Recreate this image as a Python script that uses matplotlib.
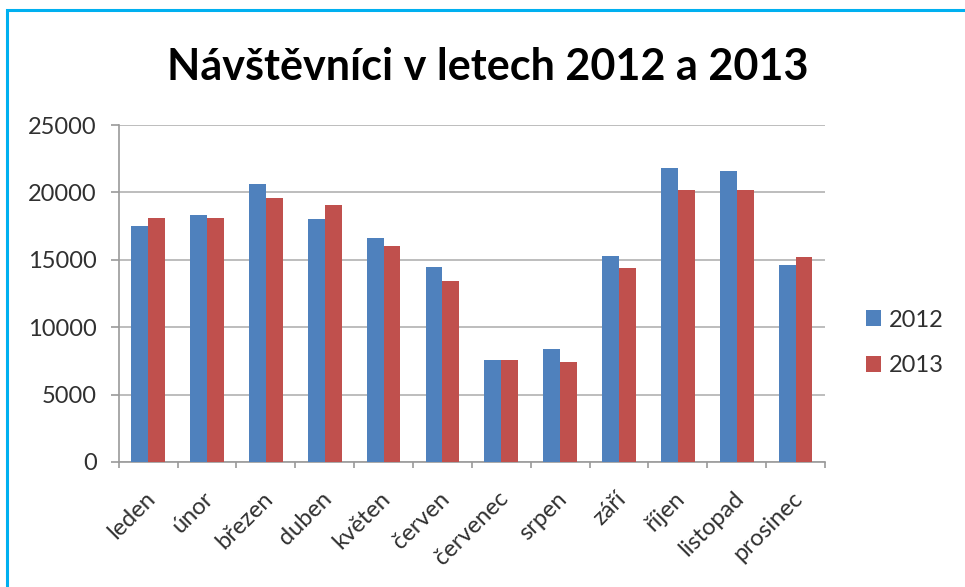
import matplotlib
matplotlib.use('Agg')
import matplotlib.pyplot as plt
import numpy as np
from matplotlib.patches import Rectangle
from matplotlib.transforms import ScaledTranslation

months = ['leden', 'únor', 'březen', 'duben', 'květen', 'červen',
          'červenec', 'srpen', 'září', 'říjen', 'listopad', 'prosinec']
v2012 = [17500, 18300, 20600, 18000, 16600, 14500, 7550, 8400, 15300, 21800, 21600, 14600]
v2013 = [18100, 18100, 19600, 19100, 16000, 13400, 7550, 7400, 14400, 20200, 20200, 15200]
series_names = ['2012', '2013']
yticks = [0, 5000, 10000, 15000, 20000, 25000]
title = 'Návštěvníci v letech 2012 a 2013'

BLUE = '#4F81BD'
RED = '#C0504D'
GRID = '#BDBDBD'
AXC = '#9A9A9A'
TXT = '#303030'

plt.rcParams['font.family'] = ['Lato', 'DejaVu Sans']

W, H = 965, 587
fig = plt.figure(figsize=(W / 100, H / 100), dpi=100)
ax = fig.add_axes([118.7 / W, 1 - 462 / H, (825 - 118.7) / W, (462 - 125) / H])

x = np.arange(len(months))
w = 1 / 3.5
ax.bar(x - w / 2, v2012, w, color=BLUE, label=series_names[0], zorder=3)
ax.bar(x + w / 2, v2013, w, color=RED, label=series_names[1], zorder=3)

ax.set_xlim(-0.5, len(months) - 0.5)
ax.set_ylim(0, 25000)
ax.set_yticks(yticks)
ax.set_yticklabels([str(v) for v in yticks])
ax.yaxis.grid(True, color=GRID, lw=1.4, zorder=0)
ax.set_axisbelow(True)

for s in ['top', 'right']:
    ax.spines[s].set_visible(False)
for s in ['left', 'bottom']:
    ax.spines[s].set_color(AXC)
    ax.spines[s].set_linewidth(1.2)

ax.tick_params(axis='y', length=5.8, width=1.2, color=AXC, pad=10,
               labelsize=17, labelcolor=TXT)
ax.set_xticks(x)
ax.set_xticklabels(months, rotation=45, ha='right', va='center',
                   rotation_mode='anchor', fontsize=17, color=TXT)
ax.tick_params(axis='x', which='major', length=0, pad=24)
ax.set_xticks(np.arange(-0.5, len(months)), minor=True)
ax.tick_params(axis='x', which='minor', length=4.5, width=1.2, color=AXC)

off = ScaledTranslation(2.5 / 72, 0, fig.dpi_scale_trans)
for lab in ax.get_xticklabels():
    lab.set_transform(lab.get_transform() + off)

ax.legend(loc='center left', bbox_to_anchor=(866 / W, 1 - 343 / H),
          bbox_transform=fig.transFigure, frameon=False, fontsize=17,
          handlelength=0.65, handleheight=0.65, handletextpad=0.3,
          labelspacing=1.05, borderpad=0, borderaxespad=0, labelcolor=TXT)

t = fig.text(488 / W, 1 - 80 / H, title, ha='center', va='baseline',
             fontsize=30, fontweight='bold', color='black')
fig.canvas.draw()
bb = t.get_window_extent()
t.set_fontsize(30 * 640 / bb.width)

fig.add_artist(Rectangle((7 / W, -0.1), 1.2, 1 - 10 / H + 0.1,
                         transform=fig.transFigure, fill=False,
                         ec='#00B0F0', lw=2.2, clip_on=False))

fig.savefig('out.png', dpi=100)
